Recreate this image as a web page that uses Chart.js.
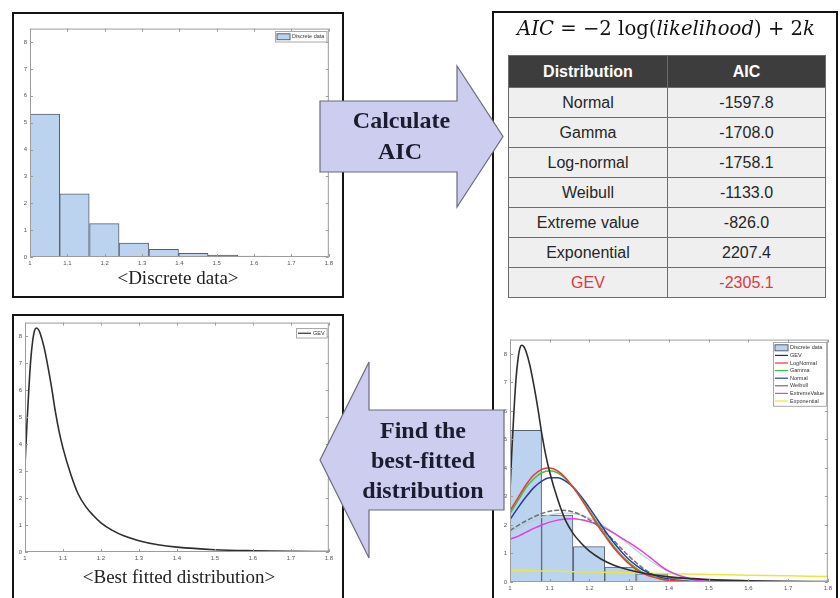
<!DOCTYPE html>
<html>
<head>
<meta charset="utf-8">
<script src="https://cdn.jsdelivr.net/npm/chart.js@4.4.1/dist/chart.umd.min.js"></script>
<style>
  html, body { margin: 0; padding: 0; background: #fff; }
  body { width: 840px; height: 598px; position: relative; overflow: hidden; font-family: "Liberation Sans", Arial, sans-serif; }
  .panel { position: absolute; border: 2px solid #141414; box-sizing: border-box; background: #fff; }
  canvas { position: absolute; }
  #aicTable { position: absolute; left: 508px; top: 55px; width: 317px; border-collapse: collapse; table-layout: fixed;
              font-family: "Liberation Sans", Arial, sans-serif; font-size: 16px; }
  #aicTable th, #aicTable td { padding: 0; text-align: center; border: 1px solid #6c6c6c; }
  #aicTable th { background: #3d3d3d; color: #fff; font-weight: bold; height: 31px; }
  #aicTable td { background: #efefef; color: #262626; height: 29px; }
  #aicTable tr.best td { color: #e0393b; }
  svg.overlay { position: absolute; left: 0; top: 0; pointer-events: none; }
</style>
</head>
<body>
<div class="panel" style="left:12px;top:12px;width:332px;height:286px"></div>
<div class="panel" style="left:12px;top:314px;width:332px;height:292px"></div>
<div class="panel" style="left:492px;top:11px;width:346px;height:600px"></div>

<canvas id="histChart" width="322" height="249" style="left:14px;top:22px"></canvas>
<canvas id="gevChart" width="327" height="250" style="left:9px;top:316px"></canvas>
<canvas id="fitChart" width="341" height="263" style="left:494px;top:333px"></canvas>

<table id="aicTable"></table>

<svg class="overlay" width="840" height="598" xmlns="http://www.w3.org/2000/svg">
  <text x="666" y="35" font-family="DejaVu Serif, Liberation Serif, serif" font-size="19.5" fill="#111"
        text-anchor="middle" textLength="298" lengthAdjust="spacingAndGlyphs"><tspan font-style="italic">AIC</tspan> = −2 log(<tspan font-style="italic">likelihood</tspan>) + 2<tspan font-style="italic">k</tspan></text>

  <text x="178" y="283.5" font-family="Liberation Serif, Times New Roman, serif" font-size="19" fill="#222" text-anchor="middle">&lt;Discrete data&gt;</text>
  <text x="179" y="583" font-family="Liberation Serif, Times New Roman, serif" font-size="19" fill="#222" text-anchor="middle">&lt;Best fitted distribution&gt;</text>

  <polygon points="320,101 457,101 457,66 503,136.5 457,207 457,172 320,172" fill="#cdcdef" stroke="#6b6b7b" stroke-width="1.2"/>
  <g font-family="Liberation Serif, Times New Roman, serif" font-weight="bold" font-size="24" fill="#1c1c30" text-anchor="middle">
    <text x="401.5" y="128">Calculate</text>
    <text x="400" y="159">AIC</text>
  </g>

  <polygon points="504,410 369,410 369,362 320,460 369,558 369,510 504,510" fill="#cdcdef" stroke="#6b6b7b" stroke-width="1.2"/>
  <g font-family="Liberation Serif, Times New Roman, serif" font-weight="bold" font-size="24" fill="#1c1c30" text-anchor="middle">
    <text x="423" y="438">Find the</text>
    <text x="423" y="468">best-fitted</text>
    <text x="423" y="498">distribution</text>
  </g>
</svg>

<script>
// ---- axis ticks ----
const xTickValues = [1, 1.1, 1.2, 1.3, 1.4, 1.5, 1.6, 1.7, 1.8];
const xTickLabels = ['1', '1.1', '1.2', '1.3', '1.4', '1.5', '1.6', '1.7', '1.8'];
const yTickValues = [0, 1, 2, 3, 4, 5, 6, 7, 8];
const yTickLabels = ['0', '1', '2', '3', '4', '5', '6', '7', '8'];

// ---- histogram of the discrete data (bin centres, density) ----
const binCenters = [1.040, 1.119, 1.199, 1.278, 1.358, 1.437, 1.517, 1.596, 1.676, 1.755];
const binDensity = [5.32, 2.35, 1.24, 0.52, 0.29, 0.14, 0.07, 0.03, 0, 0.02];

// ---- fitted GEV density ----
const gevX = [1.000, 1.005, 1.010, 1.015, 1.020, 1.025, 1.030, 1.035, 1.040, 1.050, 1.060, 1.070, 1.080, 1.090,
              1.100, 1.120, 1.140, 1.160, 1.180, 1.200, 1.230, 1.260, 1.300, 1.350, 1.400, 1.500, 1.600, 1.700, 1.800];
const gevY = [3.2, 4.7, 6.0, 7.1, 7.8, 8.2, 8.3, 8.25, 8.1, 7.6, 6.9, 6.1, 5.2, 4.45,
              3.85, 2.9, 2.15, 1.68, 1.35, 1.08, 0.8, 0.6, 0.42, 0.27, 0.18, 0.085, 0.045, 0.025, 0.015];

// ---- other candidate densities, sampled on a common grid ----
const fitX = [1.00, 1.02, 1.04, 1.06, 1.08, 1.10, 1.12, 1.14, 1.16, 1.18, 1.20, 1.22, 1.24, 1.26, 1.28,
              1.30, 1.32, 1.34, 1.36, 1.38, 1.40, 1.42, 1.44, 1.46, 1.48, 1.50, 1.60, 1.70, 1.80];
const logNormalY = [2.50, 2.95, 3.40, 3.75, 3.95, 4.00, 3.90, 3.65, 3.30, 2.90, 2.45, 2.00, 1.60, 1.22, 0.90,
                    0.63, 0.42, 0.27, 0.17, 0.10, 0.06, 0.035, 0.02, 0.012, 0.007, 0.004, 0.001, 0, 0];
const gammaY = [2.40, 2.85, 3.30, 3.62, 3.83, 3.90, 3.83, 3.62, 3.30, 2.92, 2.50, 2.07, 1.66, 1.28, 0.95,
                0.68, 0.46, 0.30, 0.19, 0.11, 0.065, 0.038, 0.021, 0.011, 0.006, 0.003, 0, 0, 0];
const normalY = [2.19, 2.60, 2.98, 3.31, 3.54, 3.66, 3.66, 3.54, 3.31, 2.98, 2.60, 2.19, 1.78, 1.40, 1.07,
                 0.78, 0.56, 0.38, 0.25, 0.16, 0.10, 0.06, 0.035, 0.02, 0.01, 0.005, 0, 0, 0];
const weibullY = [1.80, 1.98, 2.14, 2.28, 2.40, 2.48, 2.52, 2.51, 2.45, 2.34, 2.18, 1.98, 1.74, 1.47, 1.18,
                  0.90, 0.65, 0.43, 0.26, 0.15, 0.08, 0.04, 0.015, 0.005, 0, 0, 0, 0, 0];
const weibullAltY = [1.72, 1.88, 2.03, 2.16, 2.27, 2.35, 2.40, 2.42, 2.40, 2.34, 2.24, 2.10, 1.93, 1.74, 1.53,
                     1.31, 1.09, 0.88, 0.68, 0.51, 0.36, 0.25, 0.16, 0.10, 0.06, 0.035, 0.005, 0, 0];
const extremeValueY = [1.50, 1.60, 1.74, 1.88, 2.00, 2.10, 2.17, 2.21, 2.22, 2.18, 2.11, 2.02, 1.88, 1.72, 1.55,
                       1.38, 1.20, 1.00, 0.78, 0.56, 0.38, 0.26, 0.17, 0.09, 0.04, 0.015, 0, 0, 0];
const exponentialY = [0.41, 0.405, 0.40, 0.39, 0.385, 0.38, 0.375, 0.37, 0.36, 0.355, 0.35, 0.345, 0.34, 0.335, 0.325,
                      0.32, 0.315, 0.31, 0.305, 0.30, 0.29, 0.285, 0.28, 0.275, 0.27, 0.265, 0.24, 0.215, 0.19];

// ---- AIC table ----
const distNames = ['Normal', 'Gamma', 'Log-normal', 'Weibull', 'Extreme value', 'Exponential', 'GEV'];
const aicValues = ['-1597.8', '-1708.0', '-1758.1', '-1133.0', '-826.0', '2207.4', '-2305.1'];
const bestFit = 'GEV';

(function buildTable() {
  const t = document.getElementById('aicTable');
  let html = '<colgroup><col style="width:159px"><col style="width:158px"></colgroup>';
  html += '<tr><th>Distribution</th><th>AIC</th></tr>';
  distNames.forEach((n, i) => {
    html += '<tr' + (n === bestFit ? ' class="best"' : '') + '><td>' + n + '</td><td>' + aicValues[i] + '</td></tr>';
  });
  t.innerHTML = html;
})();

const pts = (xs, ys) => xs.map((x, i) => ({ x, y: ys[i] }));
const tickFont = { size: 6, family: '"Liberation Sans", Arial, sans-serif' };

// MATLAB-style box frame with inward tick marks on all four sides
const axesBox = {
  id: 'axesBox',
  afterDatasetsDraw(chart) {
    const { ctx, chartArea: a, scales: { x, y } } = chart;
    ctx.save();
    ctx.strokeStyle = '#9c9c9c';
    ctx.lineWidth = 1;
    ctx.strokeRect(a.left + 0.5, a.top + 0.5, a.right - a.left - 1, a.bottom - a.top - 1);
    const len = 3;
    ctx.beginPath();
    x.ticks.forEach(t => {
      const px = Math.round(x.getPixelForValue(t.value)) + 0.5;
      ctx.moveTo(px, a.bottom); ctx.lineTo(px, a.bottom - len);
      ctx.moveTo(px, a.top); ctx.lineTo(px, a.top + len);
    });
    y.ticks.forEach(t => {
      const py = Math.round(y.getPixelForValue(t.value)) + 0.5;
      ctx.moveTo(a.left, py); ctx.lineTo(a.left + len, py);
      ctx.moveTo(a.right, py); ctx.lineTo(a.right - len, py);
    });
    ctx.stroke();
    ctx.restore();
  }
};

// Small boxed legend in the upper right corner of the plot area
const cornerLegend = {
  id: 'cornerLegend',
  afterDraw(chart, args, opts) {
    const { ctx, chartArea: a } = chart;
    const items = chart.data.datasets.filter(d => d.label);
    const rowH = opts.rowH || 7.5, pad = 1.5, sw = 13, gap = 2;
    ctx.save();
    ctx.font = (opts.fontSize || 5.5) + 'px "Liberation Sans", Arial, sans-serif';
    const tw = Math.max(...items.map(d => ctx.measureText(d.label).width));
    const w = pad + sw + gap + tw + pad + 1;
    const h = items.length * rowH + pad * 2;
    const x0 = Math.round(a.right - (opts.right || 2) - w) + 0.5;
    const y0 = Math.round(a.top + (opts.top || 2)) + 0.5;
    ctx.fillStyle = '#fff';
    ctx.fillRect(x0, y0, w, h);
    ctx.strokeStyle = '#a8a8a8';
    ctx.lineWidth = 1;
    ctx.strokeRect(x0, y0, w, h);
    ctx.textBaseline = 'middle';
    items.forEach((d, i) => {
      const cy = y0 + pad + rowH * (i + 0.5);
      const sx = x0 + pad;
      if (d.type === 'bar') {
        ctx.fillStyle = d.backgroundColor;
        ctx.fillRect(sx, cy - rowH / 2 + 0.8, sw, rowH - 1.6);
        ctx.strokeStyle = d.borderColor;
        ctx.strokeRect(sx, cy - rowH / 2 + 0.8, sw, rowH - 1.6);
      } else {
        ctx.strokeStyle = d.borderColor;
        ctx.lineWidth = 1.2;
        ctx.setLineDash([]);
        ctx.beginPath();
        ctx.moveTo(sx, cy); ctx.lineTo(sx + sw, cy);
        ctx.stroke();
        ctx.lineWidth = 1;
      }
      ctx.fillStyle = '#333';
      ctx.fillText(d.label, sx + sw + gap, cy);
    });
    ctx.restore();
  }
};

function scaleOptions() {
  return {
    x: {
      type: 'linear', min: 1, max: 1.8, offset: false,
      grid: { display: false, drawTicks: false }, border: { display: false },
      afterBuildTicks: s => { s.ticks = xTickValues.map(v => ({ value: v })); },
      afterFit: s => { s.height = 14; },
      ticks: { font: tickFont, color: '#555', padding: 3, maxRotation: 0, autoSkip: false,
               callback: (v, i) => xTickLabels[i] }
    },
    y: {
      type: 'linear', min: 0, max: 8.5,
      grid: { display: false, drawTicks: false }, border: { display: false },
      afterBuildTicks: s => { s.ticks = yTickValues.map(v => ({ value: v })); },
      afterFit: s => { s.width = 14; },
      ticks: { font: tickFont, color: '#555', padding: 3, autoSkip: false,
               callback: (v, i) => yTickLabels[i] }
    }
  };
}

function baseOptions(legendOpts) {
  return {
    responsive: false,
    animation: false,
    layout: { padding: { left: 2, top: 6, right: 6, bottom: 0 } },
    plugins: { legend: { display: false }, tooltip: { enabled: false }, cornerLegend: legendOpts },
    scales: scaleOptions()
  };
}

const histDataset = () => ({
  type: 'bar', label: 'Discrete data', data: pts(binCenters, binDensity),
  backgroundColor: '#bcd3f0', borderColor: '#56606c', borderWidth: 1,
  barPercentage: 1, categoryPercentage: 1, grouped: false, order: 10
});

const curve = (label, xs, ys, color, extra) => Object.assign({
  type: 'line', label, data: pts(xs, ys), borderColor: color, backgroundColor: color,
  borderWidth: 1.5, pointRadius: 0, cubicInterpolationMode: 'monotone', fill: false, order: 0
}, extra || {});

// <Discrete data>
new Chart(document.getElementById('histChart'), {
  type: 'bar',
  data: { datasets: [histDataset()] },
  options: baseOptions({ rowH: 7.5, top: 2.5, right: 2 }),
  plugins: [axesBox, cornerLegend]
});

// <Best fitted distribution>
new Chart(document.getElementById('gevChart'), {
  type: 'line',
  data: { datasets: [curve('GEV', gevX, gevY, '#2e2e2e', { borderWidth: 1.6 })] },
  options: baseOptions({ rowH: 6.5, top: 5, right: 2 }),
  plugins: [axesBox, cornerLegend]
});

// Histogram with every candidate distribution overlaid
new Chart(document.getElementById('fitChart'), {
  type: 'bar',
  data: {
    datasets: [
      histDataset(),
      curve('GEV', gevX, gevY, '#2e2e2e', { borderWidth: 1.6 }),
      curve('LogNormal', fitX, logNormalY, '#e8383c'),
      curve('Gamma', fitX, gammaY, '#3cc23c'),
      curve('Normal', fitX, normalY, '#2c3aa6'),
      curve('Weibull', fitX, weibullY, '#707070', { borderDash: [5, 2] }),
      curve('ExtremeValue', fitX, extremeValueY, '#e040de'),
      curve('Exponential', fitX, exponentialY, '#e8e83c'),
      curve('', fitX, weibullAltY, '#b6cfd6', { borderWidth: 1.2, order: 1 })
    ]
  },
  options: baseOptions({ rowH: 7.6, top: 2, right: 1.5 }),
  plugins: [axesBox, cornerLegend]
});
</script>
</body>
</html>
